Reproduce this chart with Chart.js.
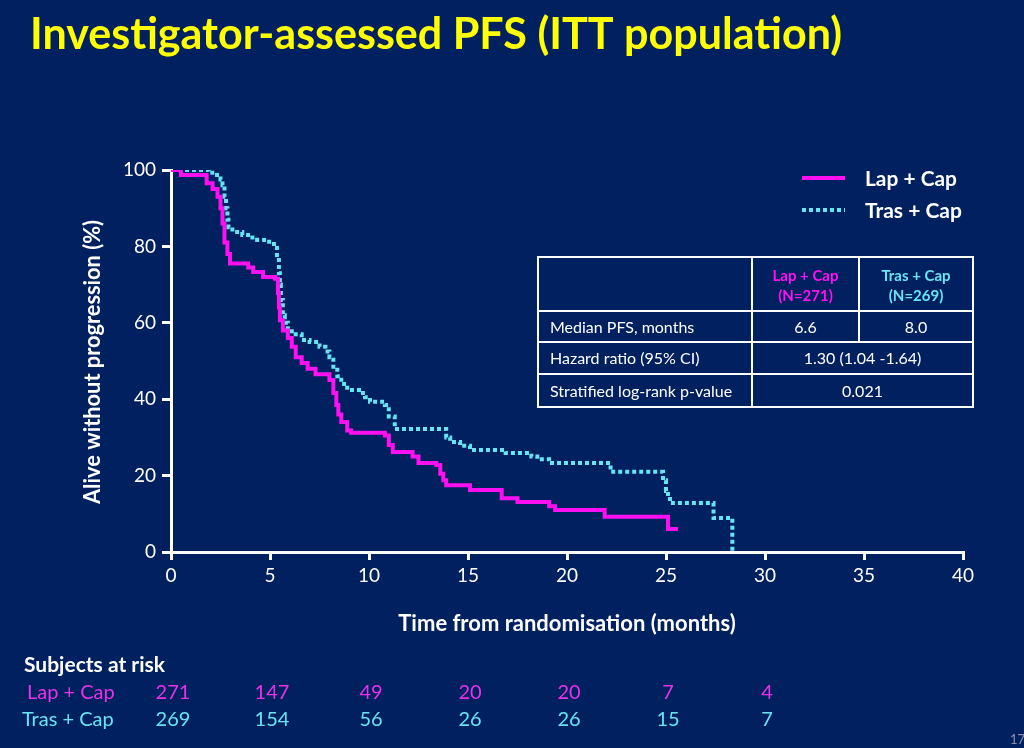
<!DOCTYPE html>
<html>
<head>
<meta charset="utf-8">
<script src="https://cdn.jsdelivr.net/npm/chart.js@4.4.0/dist/chart.umd.min.js"></script>
<style>
  html, body { margin: 0; padding: 0; background: #002060; }
  #wrap { position: relative; width: 1024px; height: 748px; }
</style>
</head>
<body>
<div id="wrap"><canvas id="km" width="1024" height="748"></canvas></div>
<script>
// Kaplan-Meier steps: [months, % alive without progression]
const lapTimes = [0, 0.5, 1.8, 2.1, 2.35, 2.5, 2.6, 2.7, 2.85, 2.98, 3.9, 4.15, 4.65, 5.25, 5.4, 5.45, 5.5, 5.65, 5.9, 6.1, 6.3, 6.6, 6.9, 7.3, 8.0, 8.2, 8.35, 8.45, 8.6, 8.9, 9.1, 10.8, 11.0, 11.2, 12.2, 12.5, 13.4, 13.6, 13.75, 13.9, 15.1, 16.7, 17.5, 19.1, 19.4, 21.9, 25.1, 25.6];
const lapSurv  = [100, 98.7, 96.5, 95, 93, 90, 86, 81, 78, 75.5, 74.5, 73.3, 72, 71.5, 67.8, 64, 60.7, 58, 56, 53.7, 51, 49.5, 48, 46.5, 45, 41.6, 38.5, 36, 34, 31.8, 31.2, 30.5, 28, 26.2, 25, 23.3, 22.8, 20.5, 18.8, 17.5, 16.2, 14.1, 13.1, 12, 11, 9.2, 6, 6];
const trasTimes = [0, 1.9, 2.2, 2.5, 2.6, 2.7, 2.78, 2.85, 2.9, 3.1, 3.6, 4.0, 4.35, 4.85, 5.2, 5.35, 5.45, 5.5, 5.55, 5.65, 5.75, 5.9, 6.1, 6.6, 7.0, 7.5, 7.8, 8.0, 8.2, 8.4, 8.6, 8.9, 9.5, 9.8, 10.05, 10.8, 11.0, 11.3, 13.9, 14.1, 14.6, 15.1, 16.9, 18.2, 18.5, 19.1, 22.2, 24.85, 25.0, 25.1, 25.2, 27.4, 28.35];
const trasSurv  = [100, 99.3, 98.7, 97.5, 96, 93, 90, 87, 85, 83.8, 83, 82.3, 81.7, 81.2, 79.6, 77.2, 73, 70, 66, 62, 60, 58.5, 57, 55.5, 55, 53.7, 52.5, 51, 48.5, 46, 44, 42.4, 41.6, 40.5, 39.3, 38.5, 35.5, 32.2, 30, 28.8, 27.8, 26.7, 25.9, 25, 24.3, 23.3, 21, 18.8, 16, 14.4, 12.8, 8.9, 0];

const seriesNames = ['Lap + Cap', 'Tras + Cap'];
const riskTimes = [0, 5, 10, 15, 20, 25, 30];
const lapRisk  = [271, 147, 49, 20, 20, 7, 4];
const trasRisk = [269, 154, 56, 26, 26, 15, 7];

const tableHead = ['Lap + Cap', '(N=271)', 'Tras + Cap', '(N=269)'];
const tableRows = [
  ['Median PFS, months', '6.6', '8.0'],
  ['Hazard ratio (95% CI)', '1.30 (1.04 -1.64)'],
  ['Stratified log-rank p-value', '0.021']
];

const MAG = '#ff10f0';
const CYAN = '#66e4f2';
const MAGTXT = '#e832e8';
const FONT = 'Lato';

function pts(xs, ys) {
  return xs.map((x, i) => ({ x: x, y: ys[i] }));
}

// draws all the slide text around the plot
const slideText = {
  id: 'slideText',
  afterDraw(chart) {
    const c = chart.ctx;
    const xs = chart.scales.x;
    c.save();
    c.textBaseline = 'alphabetic';

    // title
    c.fillStyle = '#ffff00';
    c.font = 'bold 44px ' + FONT;
    c.textAlign = 'left';
    c.fillText('Investigator-assessed PFS (ITT population)', 30, 49, 812);

    // axis titles
    c.fillStyle = '#ffffff';
    c.font = 'bold 22px ' + FONT;
    c.textAlign = 'center';
    c.fillText('Time from randomisation (months)', 567, 631, 340);
    c.save();
    c.translate(100, 362);
    c.rotate(-Math.PI / 2);
    c.fillText('Alive without progression (%)', 0, 0, 284);
    c.restore();

    // legend
    c.lineWidth = 4;
    c.strokeStyle = MAG;
    c.setLineDash([]);
    c.beginPath(); c.moveTo(802, 178); c.lineTo(845, 178); c.stroke();
    c.strokeStyle = CYAN;
    c.setLineDash([4, 3]);
    c.beginPath(); c.moveTo(802, 210); c.lineTo(845, 210); c.stroke();
    c.setLineDash([]);
    c.fillStyle = '#ffffff';
    c.font = 'bold 21px ' + FONT;
    c.textAlign = 'left';
    c.fillText(seriesNames[0], 865, 186, 92);
    c.fillText(seriesNames[1], 865, 218, 97);

    // stats table
    const tx = [538, 752, 859, 973];
    const ty = [257, 311, 342, 374, 407];
    c.strokeStyle = '#ffffff';
    c.lineWidth = 2;
    c.strokeRect(tx[0], ty[0], tx[3] - tx[0], ty[4] - ty[0]);
    c.beginPath();
    for (let i = 1; i < 4; i++) { c.moveTo(tx[0], ty[i]); c.lineTo(tx[3], ty[i]); }
    c.moveTo(tx[1], ty[0]); c.lineTo(tx[1], ty[4]);
    c.moveTo(tx[2], ty[0]); c.lineTo(tx[2], ty[2]);
    c.stroke();
    c.font = 'bold 15px ' + FONT;
    c.textAlign = 'center';
    c.fillStyle = MAG;
    c.fillText(tableHead[0], (tx[1] + tx[2]) / 2, 281, 68);
    c.fillText(tableHead[1], (tx[1] + tx[2]) / 2, 301);
    c.fillStyle = CYAN;
    c.fillText(tableHead[2], (tx[2] + tx[3]) / 2, 281, 72);
    c.fillText(tableHead[3], (tx[2] + tx[3]) / 2, 301);
    c.fillStyle = '#ffffff';
    c.font = '16px ' + FONT;
    tableRows.forEach((row, r) => {
      const y = (ty[r + 1] + ty[r + 2]) / 2 + 6;
      c.textAlign = 'left';
      c.fillText(row[0], 550, y, r === 2 ? 184 : 160);
      c.textAlign = 'center';
      if (row.length === 3) {
        c.fillText(row[1], (tx[1] + tx[2]) / 2, y);
        c.fillText(row[2], (tx[2] + tx[3]) / 2, y);
      } else {
        c.fillText(row[1], (tx[1] + tx[3]) / 2, y);
      }
    });

    // subjects at risk
    c.textAlign = 'left';
    c.font = 'bold 21px ' + FONT;
    c.fillStyle = '#ffffff';
    c.fillText('Subjects at risk', 24, 672, 146);
    c.font = '20px ' + FONT;
    c.fillStyle = MAGTXT;
    c.fillText(seriesNames[0], 27, 699, 89);
    c.fillStyle = CYAN;
    c.fillText(seriesNames[1], 22, 726, 96);
    c.textAlign = 'center';
    riskTimes.forEach((t, i) => {
      const px = xs.getPixelForValue(t) + 2;
      c.fillStyle = MAGTXT;
      c.fillText(String(lapRisk[i]), px, 699);
      c.fillStyle = CYAN;
      c.fillText(String(trasRisk[i]), px, 726);
    });

    // slide number
    c.fillStyle = '#8a8fa8';
    c.font = '13px ' + FONT;
    c.textAlign = 'left';
    c.fillText('17', 1010, 744);
    c.restore();
  }
};

new Chart(document.getElementById('km'), {
  type: 'line',
  data: {
    datasets: [
      {
        label: seriesNames[0],
        data: pts(lapTimes, lapSurv),
        borderColor: MAG,
        borderWidth: 4,
        stepped: 'before',
        pointRadius: 0,
        fill: false
      },
      {
        label: seriesNames[1],
        data: pts(trasTimes, trasSurv),
        borderColor: CYAN,
        borderWidth: 4,
        borderDash: [4, 3],
        stepped: 'before',
        pointRadius: 0,
        fill: false
      }
    ]
  },
  options: {
    responsive: false,
    animation: false,
    layout: { padding: { top: 170, right: 61, bottom: 0, left: 0 } },
    plugins: { legend: { display: false }, tooltip: { enabled: false } },
    scales: {
      x: {
        type: 'linear',
        min: 0, max: 40,
        ticks: { stepSize: 5, color: '#ffffff', font: { family: FONT, size: 19 }, padding: 4, maxRotation: 0 },
        grid: { drawOnChartArea: false, drawTicks: true, tickLength: 8, color: '#ffffff', lineWidth: 3 },
        border: { color: '#ffffff', width: 3 },
        afterFit(scale) { scale.height = 196; }
      },
      y: {
        min: 0, max: 100,
        ticks: { stepSize: 20, color: '#ffffff', font: { family: FONT, size: 19 }, padding: 6 },
        grid: { drawOnChartArea: false, drawTicks: true, tickLength: 9, color: '#ffffff', lineWidth: 3 },
        border: { color: '#ffffff', width: 3 },
        afterFit(scale) { scale.width = 171; }
      }
    }
  },
  plugins: [slideText]
});
</script>
</body>
</html>
